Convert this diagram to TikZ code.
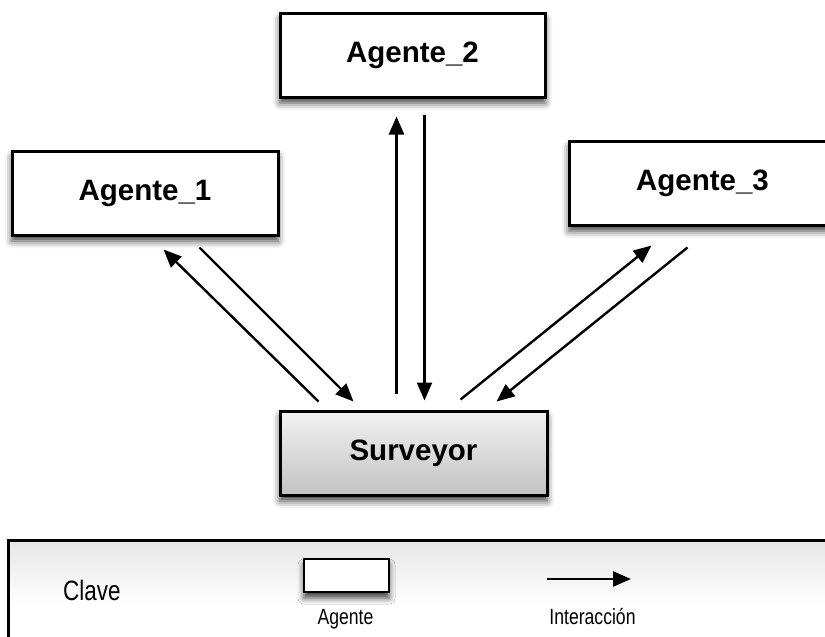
\documentclass[tikz,border=0pt]{standalone}
\usepackage{fontspec}
\setmainfont{Liberation Sans}
\newfontfamily\narrowsans[FakeStretch=0.8]{Liberation Sans}
\usetikzlibrary{arrows.meta,shadows.blur}

\tikzset{
  agentbox/.style={draw=black, line width=3pt, fill=white, rectangle,
    minimum width=266pt, minimum height=84pt, inner sep=0pt,
    font=\fontsize{29.5}{34}\selectfont\bfseries,
    blur shadow={shadow xshift=0pt, shadow yshift=-6pt,
      shadow blur radius=7pt, shadow opacity=75}},
  hubbox/.style={agentbox, top color=black!5, bottom color=black!24},
  msg/.style={draw=black, line width=2.4pt,
    -{Triangle[length=18pt,width=15pt]}},
  keylabel/.style={inner sep=0pt, anchor=base, font=\narrowsans\fontsize{22}{26}\selectfont}
}

\begin{document}
\begin{tikzpicture}[x=1pt, y=-1pt]
  \useasboundingbox (0,0) rectangle (825,637);
  \clip (0,0) rectangle (825,637);

  % agents and surveyor
  \node[agentbox] (a1) at (145,193) {Agente\_1};
  \node[agentbox, minimum width=265pt] (a2) at (412.5,55) {Agente\_2};
  \node[agentbox, minimum width=267pt] (a3) at (702.5,183) {Agente\_3};
  \node[hubbox, minimum width=267pt] (s) at (413.5,453) {Surveyor};

  % interactions, one pair per agent
  \draw[msg] ([shift={(40,-8)}]s.north west) -- ([shift={(153,13)}]a1.south west);
  \draw[msg] ([shift={(189,11)}]a1.south west) -- ([shift={(75,-8)}]s.north west);
  \draw[msg] ([shift={(118,-16)}]s.north west) -- ([shift={(118,18)}]a2.south west);
  \draw[msg] ([shift={(146,16)}]a2.south west) -- ([shift={(146,-9)}]s.north west);
  \draw[msg] ([shift={(182,-10)}]s.north west) -- ([shift={(84,19)}]a3.south west);
  \draw[msg] ([shift={(120,21)}]a3.south west) -- ([shift={(218,-8)}]s.north west);

  % key
  \node[draw=black, line width=3pt, rectangle, inner sep=0pt,
        minimum width=832pt, minimum height=130pt,
        top color=black!10, bottom color=white, middle color=white] (key) at (424,605) {};
  \node[inner sep=0pt, anchor=base west, font=\narrowsans\fontsize{28}{32}\selectfont]
        (clave) at (63,600) {Clave};
  \node[draw=black, line width=2.4pt, fill=white, rectangle, inner sep=0pt,
        minimum width=85pt, minimum height=33pt,
        blur shadow={shadow xshift=0pt, shadow yshift=-6pt,
          shadow blur radius=6pt, shadow opacity=75}] (kbox) at (346.5,575.5) {};
  \node[keylabel] (kagent) at (345.5,624) {Agente};
  \coordinate (ka) at (547,579);
  \coordinate (kb) at (631,579);
  \draw[msg] (ka) -- (kb);
  \node[keylabel] (kmsg) at (592.5,624) {Interacción};
\end{tikzpicture}
\end{document}
